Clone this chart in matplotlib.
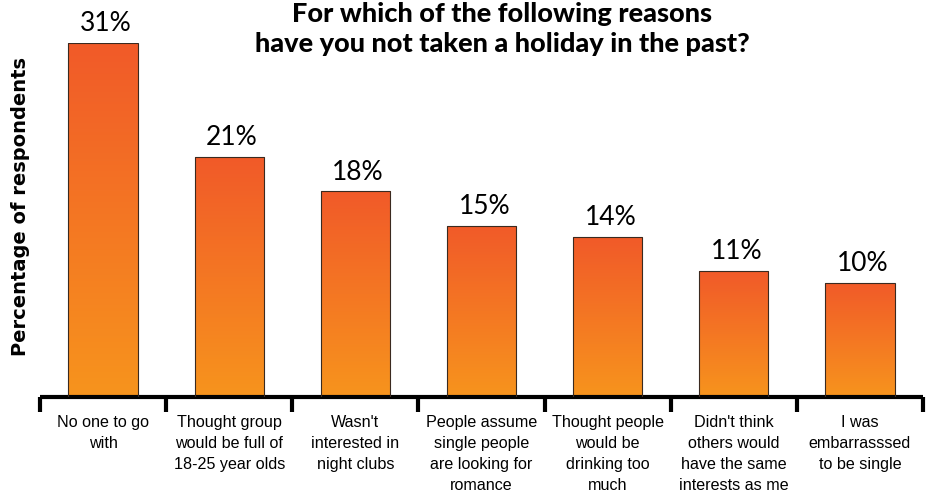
import numpy as np
import matplotlib
matplotlib.use('Agg')
import matplotlib.pyplot as plt
from matplotlib.colors import LinearSegmentedColormap

# data
reasons = [
    'No one to go\nwith',
    'Thought group\nwould be full of\n18-25 year olds',
    "Wasn't\ninterested in\nnight clubs",
    'People assume\nsingle people\nare looking for\nromance',
    'Thought people\nwould be\ndrinking too\nmuch',
    "Didn't think\nothers would\nhave the same\ninterests as me",
    'I was\nembarrasssed\nto be single',
]
pct = [31, 21, 18, 15, 14, 11, 10]

TITLE = 'For which of the following reasons\nhave you not taken a holiday in the past?'
C_TOP, C_BOT = '#F15A29', '#F7941D'

W, H = 930, 499
fig = plt.figure(figsize=(W/100, H/100), dpi=100)
ax = fig.add_axes([40/W, (H-397)/H, 883/W, 354/H])

x = np.arange(len(pct))
bars = ax.bar(x, pct, width=0.55, color='none', edgecolor='#3a2a20', lw=0.8, zorder=3)

# vertical gradient inside each bar (red-orange top -> orange bottom)
cmap = LinearSegmentedColormap.from_list('og', [C_BOT, C_TOP])
grad = np.linspace(0, 1, 256).reshape(-1, 1)
for b in bars:
    x0, w, h = b.get_x(), b.get_width(), b.get_height()
    im = ax.imshow(grad, extent=[x0, x0 + w, 0, h], origin='lower',
                   aspect='auto', cmap=cmap, zorder=2)
    im.set_clip_path(b)

for xi, v in zip(x, pct):
    ax.annotate(f'{v}%', (xi, v), xytext=(2, 5), textcoords='offset points',
                ha='center', va='bottom', fontsize=19, family='Lato',
                annotation_clip=False)

ax.set_xlim(-0.5, len(pct) - 0.5)
ax.set_ylim(0, 31)

for s in ('top', 'right', 'left'):
    ax.spines[s].set_visible(False)
ax.spines['bottom'].set_linewidth(3)
ax.spines['bottom'].set_capstyle('butt')
ax.set_yticks([])

ax.set_xticks(x)
ax.set_xticklabels(reasons, fontsize=11.6, family='Liberation Sans',
                   linespacing=1.5, va='top')
ax.tick_params(axis='x', which='major', length=0, pad=13)
ax.set_xticks(np.arange(-0.5, len(pct)), minor=True)
ax.tick_params(axis='x', which='minor', length=11, width=3, direction='out')

fig.text(21/W, (H-207)/H, 'Percentage of respondents', rotation=90,
         ha='center', va='center', fontsize=14, fontweight='bold',
         family='DejaVu Sans')
fig.text(502/W, (H-29)/H, TITLE, ha='center', va='center', fontsize=19.5,
         fontweight='black', family='Lato', linespacing=1.3)

fig.savefig('out.png', dpi=100)
